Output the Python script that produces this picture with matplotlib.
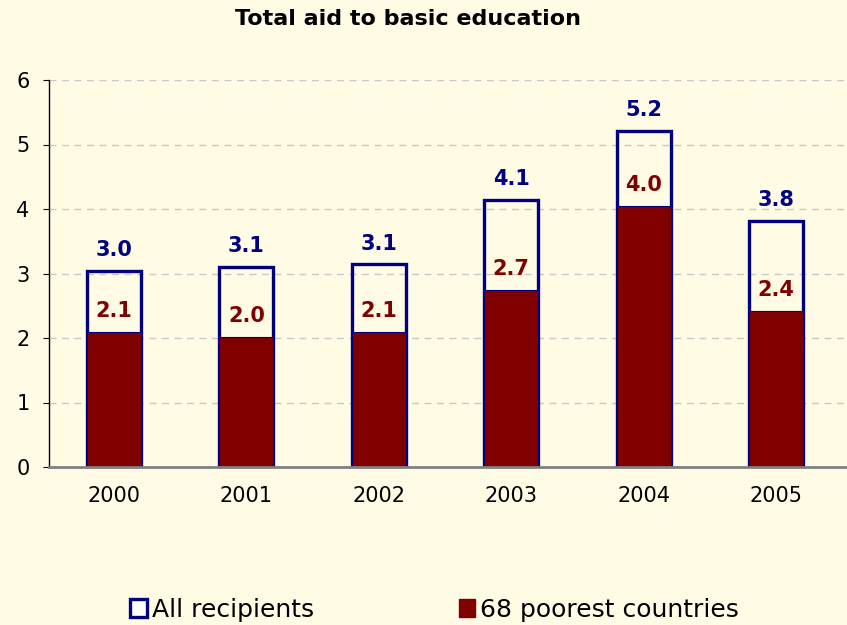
import matplotlib
matplotlib.use('Agg')
import matplotlib.pyplot as plt
from matplotlib.patches import Patch
from matplotlib import font_manager

years = ['2000', '2001', '2002', '2003', '2004', '2005']
all_recipients = [3.04, 3.10, 3.14, 4.14, 5.21, 3.81]
poorest = [2.09, 2.02, 2.09, 2.74, 4.04, 2.42]

bg = '#FFFBE5'
navy = '#000080'
maroon = '#800000'

installed = {f.name for f in font_manager.fontManager.ttflist}
narrow = [f for f in ['Liberation Sans Narrow', 'DejaVu Sans Condensed']
          if f in installed] + ['DejaVu Sans']

fig = plt.figure(figsize=(8.47, 6.25), dpi=100, facecolor=bg)
ax = fig.add_axes([0.0578, 0.2528, 0.9422, 0.6192], facecolor=bg)

x = list(range(len(years)))
w = 0.41

# outline bars for all recipients, filled bars for the poorest countries
ax.bar(x, all_recipients, width=w, facecolor='none', edgecolor=navy,
       linewidth=2.4, zorder=3)
ax.bar(x, poorest, width=w, color=maroon, edgecolor=navy, linewidth=0.8,
       zorder=4)

for xi, v in zip(x, all_recipients):
    ax.text(xi, v + 0.17, f'{v:.1f}', ha='center', va='bottom', color=navy,
            fontsize=15, fontweight='bold', zorder=5)
for xi, v in zip(x, poorest):
    ax.text(xi, v + 0.17, f'{v:.1f}', ha='center', va='bottom', color=maroon,
            fontsize=15, fontweight='bold', zorder=5)

ax.set_xlim(-0.49, 5.535)
ax.set_ylim(0, 6)
ax.set_yticks(range(7))
ax.set_xticks(x)
ax.set_xticklabels(years)
ax.yaxis.grid(True, linestyle=(0, (5, 4)), color='#C8C8C8', linewidth=1)
ax.set_axisbelow(True)

for lab in ax.get_xticklabels() + ax.get_yticklabels():
    lab.set_family(narrow)
    lab.set_fontsize(15)
ax.tick_params(axis='x', length=0, pad=14)
ax.tick_params(axis='y', length=4, pad=10, direction='out')

ax.spines['top'].set_visible(False)
ax.spines['right'].set_visible(False)
ax.spines['left'].set_color('black')
ax.spines['left'].set_linewidth(1)
ax.spines['bottom'].set_color('#808080')
ax.spines['bottom'].set_linewidth(2)
ax.spines['bottom'].set_zorder(6)

fig.text(0.482, 0.97, 'Total aid to basic education', ha='center',
         va='center', fontsize=16, fontweight='bold', family=narrow)

handles = [Patch(facecolor='white', edgecolor=navy, linewidth=2.4),
           Patch(facecolor=maroon, edgecolor=maroon)]
fig.legend(handles, ['All recipients', '68 poorest countries'],
           loc='center', bbox_to_anchor=(0.513, 0.024), ncol=2, frameon=False,
           prop={'family': narrow, 'size': 18}, handlelength=0.65,
           handleheight=0.75, handletextpad=0.2, columnspacing=5.8)

fig.savefig('out.png', dpi=100, facecolor=bg)
